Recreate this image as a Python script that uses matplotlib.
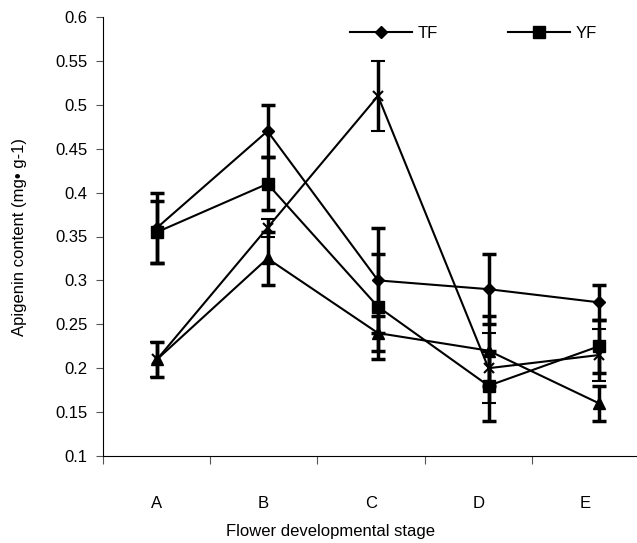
import numpy as np
import matplotlib
matplotlib.use("Agg")
import matplotlib.pyplot as plt
from matplotlib.lines import Line2D

plt.rcParams['font.family'] = ['Liberation Sans', 'DejaVu Sans']

stages = ['A', 'B', 'C', 'D', 'E']

tf = [0.36, 0.47, 0.30, 0.29, 0.275]
tf_err = [0.04, 0.03, 0.06, 0.04, 0.02]

yf = [0.355, 0.41, 0.27, 0.18, 0.225]
yf_err = [0.035, 0.03, 0.06, 0.04, 0.03]

tri = [0.21, 0.325, 0.24, 0.22, 0.16]
tri_err = [0.02, 0.03, 0.02, 0.04, 0.02]

cross = [0.21, 0.36, 0.51, 0.20, 0.215]
cross_err = [0.02, 0.01, 0.04, 0.04, 0.03]

x = np.arange(1, len(stages) + 1)

fig = plt.figure(figsize=(6.37, 5.43), dpi=100)
ax = fig.add_axes([102.7/637, 87/543, 1 - 102.7/637, 439/543])

ekw = dict(color='black', lw=1.5, elinewidth=2.5, capsize=5, capthick=2.5)
ax.errorbar(x, tf, yerr=tf_err, marker='D', ms=6, **ekw)
ax.errorbar(x, yf, yerr=yf_err, marker='s', ms=8, **ekw)
ax.errorbar(x, tri, yerr=tri_err, marker='^', ms=8, **ekw)
ax.errorbar(x, cross, yerr=cross_err, marker='x', ms=7, mew=1.5, **ekw)

# points are spaced 110.5 px apart, category labels 107.3 px
step_pts, step_lab = 110.5, 107.3
ax.set_xlim(1 - 54.3/step_pts, 5 + 38/step_pts)
ax.set_ylim(0.1, 0.6)

def fwd(v):
    return 0.5 + (54.3 + (np.asarray(v) - 1) * step_pts) / step_lab

def inv(u):
    return 1 + ((np.asarray(u) - 0.5) * step_lab - 54.3) / step_pts

ax.set_xticks([])
sec = ax.secondary_xaxis('bottom', functions=(fwd, inv))
sec.set_xticks(np.arange(0.5, len(stages) + 0.6, 1.0))
sec.set_xticklabels([])
sec.set_xticks(np.arange(1, len(stages) + 1), minor=True)
sec.set_xticklabels(stages, minor=True, fontsize=12)
sec.tick_params(axis='x', which='major', direction='out', length=6, color='#555555')
sec.tick_params(axis='x', which='minor', length=0, pad=29)

ax.set_xlabel('Flower developmental stage', fontsize=12)
ax.xaxis.set_label_coords(0.427, -0.155)

yt = np.arange(0.1, 0.601, 0.05)
ax.set_yticks(yt)
ax.set_yticklabels(['%g' % round(v, 2) for v in yt], fontsize=12)
ax.tick_params(axis='y', direction='out', length=5, pad=6, color='#555555')
ax.set_ylabel('Apigenin content (mg• g-1)', fontsize=12, labelpad=20)

ax.spines['top'].set_visible(False)
ax.spines['right'].set_visible(False)
ax.spines['bottom'].set_visible(False)

handles = [Line2D([], [], color='black', lw=1.5, marker='D', ms=6),
           Line2D([], [], color='black', lw=1.5, marker='s', ms=8)]
ax.legend(handles, ['TF', 'YF'], loc='center left',
          bbox_to_anchor=(350/637, 1 - 33/543),
          bbox_transform=fig.transFigure, ncol=2, frameon=False,
          borderaxespad=0, borderpad=0, handlelength=3.7,
          handletextpad=0.36, columnspacing=4.2, fontsize=12)

fig.savefig('out.png', dpi=100)
